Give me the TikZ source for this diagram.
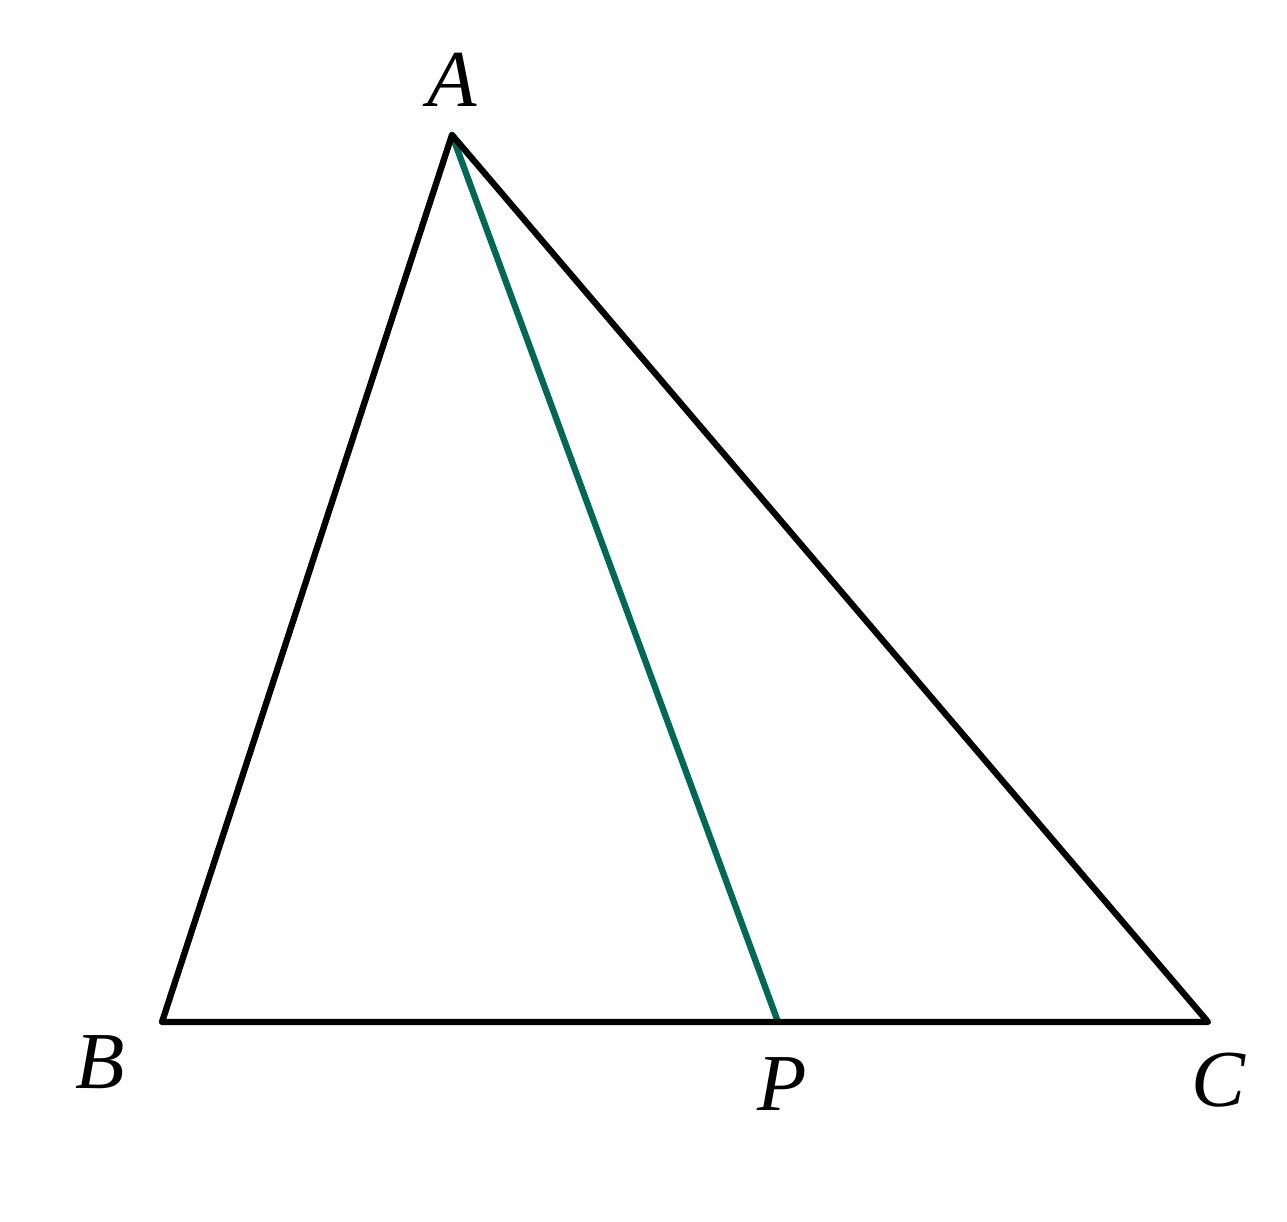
\documentclass[tikz,border=0pt]{standalone}
\usepackage{fontspec}
\setmainfont{Liberation Serif}
\usepackage{xcolor}
\definecolor{teal0}{RGB}{0,105,85}
\begin{document}
\begin{tikzpicture}
    % Riquadro
    \useasboundingbox (0,0) rectangle (12.87,12.22);
    \tikzset{lato/.style = {line width = 1.8pt, line join = round, line cap = round},
             etichetta/.style = {font = \fontsize{23}{28}\selectfont\itshape, inner sep = 0pt}}
    % Vertici
    \coordinate (A) at (4.52,10.87);
    \coordinate (B) at (1.62,2.00);
    \coordinate (C) at (12.08,2.00);
    \coordinate (P) at (7.78,2.00);
    % Triangolo e segmento
    \draw[lato, teal0] (A) -- (P);
    \draw[lato] (A) -- (B) -- (C) -- cycle;
    % Etichette
    \node[etichetta] (lA) at (4.52,11.42) {A};
    \node[etichetta] (lB) at (1.00,1.60) {B};
    \node[etichetta] (lP) at (7.82,1.38) {P};
    \node[etichetta] (lC) at (12.18,1.42) {C};
\end{tikzpicture}
\end{document}
